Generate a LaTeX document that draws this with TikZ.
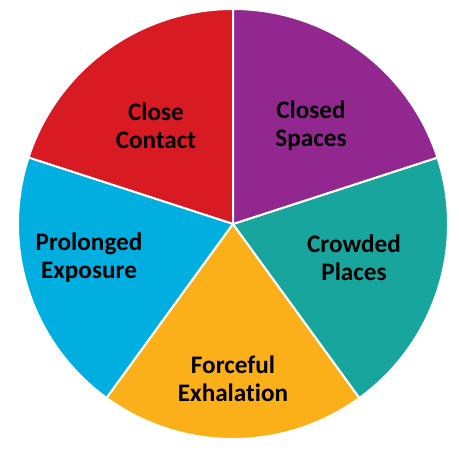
\documentclass[tikz,border=0pt]{standalone}
\usepackage{fontspec}
\setmainfont[Ligatures=NoCommon]{Carlito}
\usepackage{tikz}

\definecolor{piered}{HTML}{D81B23}
\definecolor{piepurple}{HTML}{92278F}
\definecolor{pieteal}{HTML}{17A59E}
\definecolor{pieorange}{HTML}{FBB01A}
\definecolor{pieblue}{HTML}{00AEE0}

\begin{document}
\begin{tikzpicture}[x=0.03cm,y=0.03cm]

                \tikzset{sector/.style = {draw=white,line width=0.06cm,line join=round}}
                \tikzset{label/.style = {align=center,font=\fontsize{21.5}{24}\selectfont\bfseries,text=black}}

                \useasboundingbox (0,0) rectangle (459,451);
                \coordinate (hub) at (233,227);

                \filldraw[sector,fill=piered] (hub) -- ++(90:215) arc[start angle=90,end angle=162,radius=215] -- cycle;
                \filldraw[sector,fill=pieblue] (hub) -- ++(162:215) arc[start angle=162,end angle=234,radius=215] -- cycle;
                \filldraw[sector,fill=pieorange] (hub) -- ++(234:215) arc[start angle=234,end angle=306,radius=215] -- cycle;
                \filldraw[sector,fill=pieteal] (hub) -- ++(306:215) arc[start angle=306,end angle=378,radius=215] -- cycle;
                \filldraw[sector,fill=piepurple] (hub) -- ++(18:215) arc[start angle=18,end angle=90,radius=215] -- cycle;

                \node[label] (contact) at (156,325) {Close\\Contact};
                \node[label] (spaces) at (311,325) {Closed\\Spaces};
                \node[label] (places) at (354,193) {Crowded\\Places};
                \node[label] (exposure) at (89,193) {Prolonged\\Exposure};
                \node[label] (exhalation) at (233,72) {Forceful\\Exhalation};

        \end{tikzpicture}
\end{document}
